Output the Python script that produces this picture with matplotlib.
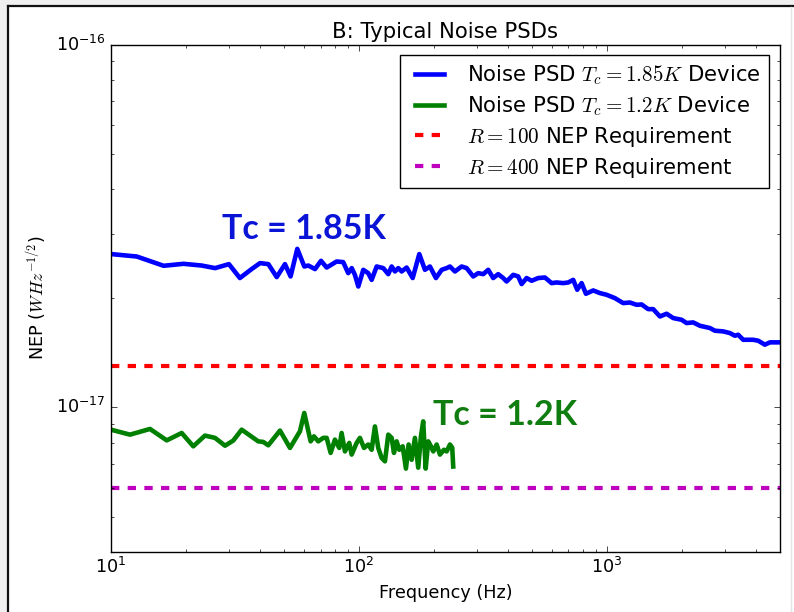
import numpy as np
import matplotlib
matplotlib.use("Agg")
import matplotlib.pyplot as plt
from matplotlib.patches import Rectangle
from matplotlib.lines import Line2D

# Noise PSD of the Tc = 1.85 K device (frequency in Hz, NEP in units of 1e-17 W/rtHz)
blue_freq = [10.0, 12.7, 16.3, 19.6, 23.2, 26.3, 29.9, 33.1, 36.9, 39.9,
             43.1, 46.6, 50.3, 53.0, 56.4, 60.2, 62.5, 66.5, 70.3, 74.1,
             81.3, 86.4, 90.5, 93.5, 96.3, 99.4, 104.1, 109.0, 112.5, 117.9,
             125.3, 131.3, 135.5, 139.7, 144.1, 148.7, 155.7, 164.7, 175.1, 184.6,
             193.3, 204.4, 215.6, 225.8, 232.8, 243.8, 259.5, 271.9, 289.0, 302.7,
             317.1, 332.2, 347.9, 364.4, 381.8, 394.0, 419.0, 438.9, 452.9, 474.5,
             497.1, 528.4, 562.3, 598.4, 626.9, 666.6, 698.3, 731.4, 759.0, 790.7,
             823.0, 880.6, 937.1, 997.2, 1077, 1163, 1238, 1318, 1380, 1467,
             1537, 1636, 1741, 1851, 2001, 2096, 2228, 2371, 2602, 2726,
             2944, 3133, 3282, 3384, 3545, 3891, 4075, 4336, 4543, 4985]
blue_nep = [2.647, 2.606, 2.457, 2.488, 2.461, 2.421, 2.483, 2.273, 2.406, 2.499,
            2.483, 2.287, 2.483, 2.296, 2.736, 2.446, 2.461, 2.406, 2.536, 2.430,
            2.525, 2.515, 2.345, 2.421, 2.320, 2.154, 2.395, 2.345, 2.247, 2.446,
            2.421, 2.330, 2.446, 2.370, 2.421, 2.370, 2.430, 2.273, 2.647, 2.395,
            2.446, 2.273, 2.395, 2.421, 2.446, 2.370, 2.446, 2.421, 2.296, 2.345,
            2.330, 2.395, 2.273, 2.330, 2.273, 2.224, 2.320, 2.296, 2.188, 2.273,
            2.234, 2.273, 2.281, 2.201, 2.210, 2.201, 2.210, 2.247, 2.110, 2.201,
            2.057, 2.101, 2.066, 2.044, 2.001, 1.939, 1.946, 1.918, 1.922, 1.866,
            1.866, 1.781, 1.812, 1.763, 1.744, 1.708, 1.715, 1.679, 1.655, 1.627,
            1.620, 1.603, 1.576, 1.586, 1.536, 1.536, 1.527, 1.489, 1.511, 1.511]

# Noise PSD of the Tc = 1.2 K device
green_freq = [10.0, 11.93, 14.36, 16.78, 19.28, 21.47, 23.93, 26.27, 28.83, 31.12,
              33.65, 39.26, 41.12, 43.08, 48.03, 52.71, 57.81, 60.17, 63.85, 65.84,
              68.54, 71.79, 74.09, 76.88, 80.01, 83.27, 85.14, 87.80, 91.39, 93.45,
              97.88, 100.9, 104.8, 109.0, 112.5, 116.0, 119.6, 123.5, 127.3, 131.3,
              135.5, 138.4, 141.9, 145.4, 150.1, 154.7, 158.6, 163.1, 168.2, 173.4,
              177.8, 181.6, 185.8, 190.3, 195.1, 199.4, 205.8, 212.2, 220.2, 225.8,
              232.8, 237.8, 240.0]
green_nep = [0.868, 0.841, 0.872, 0.811, 0.850, 0.781, 0.836, 0.824, 0.784, 0.810,
             0.868, 0.806, 0.803, 0.786, 0.863, 0.773, 0.859, 0.965, 0.806, 0.832,
             0.806, 0.824, 0.824, 0.749, 0.815, 0.773, 0.850, 0.756, 0.798, 0.741,
             0.798, 0.824, 0.773, 0.790, 0.764, 0.886, 0.773, 0.725, 0.710, 0.841,
             0.824, 0.749, 0.806, 0.764, 0.781, 0.678, 0.790, 0.717, 0.824, 0.682,
             0.832, 0.915, 0.678, 0.806, 0.781, 0.756, 0.790, 0.741, 0.764, 0.756,
             0.790, 0.774, 0.687]

# NEP requirements
req_r100 = 1.30e-17
req_r400 = 6.0e-18

plt.style.use("classic")
plt.rcParams["font.size"] = 12.7
plt.rcParams["savefig.facecolor"] = "#f0f0f0"

fig = plt.figure(figsize=(7.94, 6.12), dpi=100, facecolor="#f0f0f0")

# page frame
W, H = 794.0, 612.0
fig.add_artist(Rectangle((8 / W, 0), 1 - 8 / W, 1 - 6 / H, transform=fig.transFigure,
                         facecolor="white", edgecolor="none", zorder=-10))
fig.add_artist(Line2D([8 / W, 1], [1 - 6 / H, 1 - 6 / H], transform=fig.transFigure,
                      color="#111111", lw=1.6))
fig.add_artist(Line2D([8 / W, 8 / W], [0, 1 - 6 / H], transform=fig.transFigure,
                      color="#111111", lw=1.6))
fig.add_artist(Line2D([790.5 / W, 790.5 / W], [0, 1 - 7 / H], transform=fig.transFigure,
                      color="#e4e4e4", lw=1.0))

ax = fig.add_axes([111 / W, 1 - 551.7 / H, (780 - 111) / W, (551.7 - 44.7) / H])

ax.plot(blue_freq, np.array(blue_nep) * 1e-17, color="b", lw=3.3,
        label=r"Noise PSD $T_c=1.85K$ Device")
ax.plot(green_freq, np.array(green_nep) * 1e-17, color="g", lw=3.3,
        label=r"Noise PSD $T_c=1.2K$ Device")
ax.axhline(req_r100, color="r", ls="--", lw=3, label=r"$R=100$ NEP Requirement")
ax.axhline(req_r400, color="m", ls="--", lw=3, label=r"$R=400$ NEP Requirement")

ax.set_xscale("log")
ax.set_yscale("log")
ax.set_xlim(10, 4990)
ax.set_ylim(4e-18, 1e-16)

ax.set_title("B: Typical Noise PSDs", fontsize=15.2)
ax.set_xlabel("Frequency (Hz)")
ax.set_ylabel(r"NEP ($WHz^{-1/2}$)")
ax.legend(loc="upper right", fontsize=15.2, labelspacing=0.33)

ax.text(28.0, 2.915e-17, "Tc = 1.85K", color="#0a14d6", fontsize=24.5,
        family="Lato", weight="bold", ha="left", va="baseline")
ax.text(199, 0.896e-17, "Tc = 1.2K", color="#0f7d0f", fontsize=24.5,
        family="Lato", weight="bold", ha="left", va="baseline")

fig.savefig("out.png", dpi=100, facecolor=fig.get_facecolor())
